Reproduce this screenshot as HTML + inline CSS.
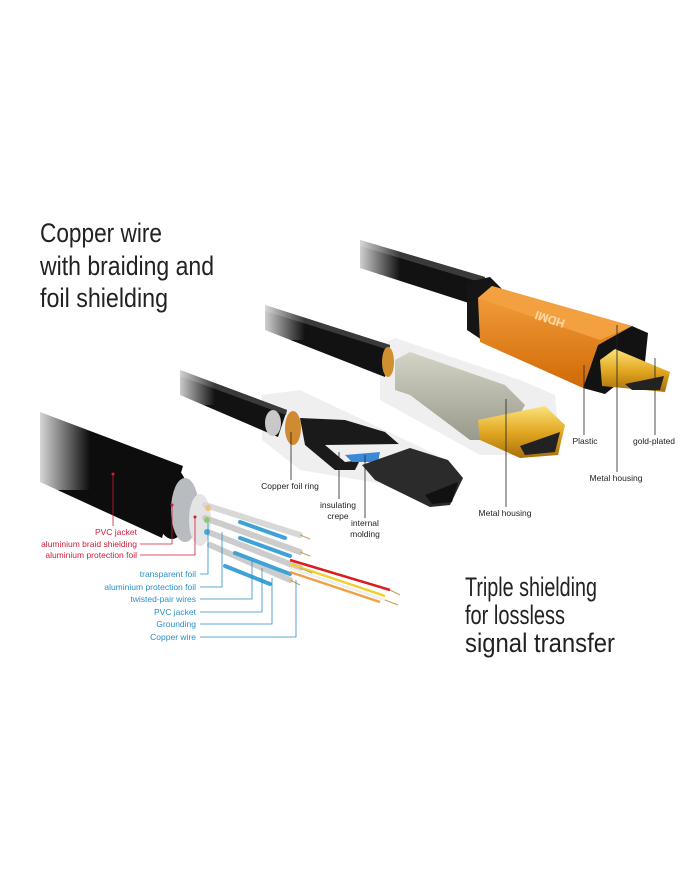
<!DOCTYPE html>
<html><head><meta charset="utf-8"><style>
html,body{margin:0;padding:0;background:#fff;}
svg{display:block;}
.big{font-family:"Liberation Sans Narrow","Liberation Sans",sans-serif;font-size:27px;fill:#222;}
.lb{font-family:"Liberation Sans",sans-serif;font-size:8.5px;}
</style></head><body>
<svg width="700" height="869" viewBox="0 0 700 869" xmlns="http://www.w3.org/2000/svg">
<defs>
<linearGradient id="fadeL" x1="0" y1="0" x2="1" y2="0">
<stop offset="0" stop-color="#fff" stop-opacity="1"/><stop offset="1" stop-color="#fff" stop-opacity="0"/></linearGradient>
<linearGradient id="org" x1="0" y1="0" x2="0" y2="1">
<stop offset="0" stop-color="#f5a040"/><stop offset="1" stop-color="#d06a05"/></linearGradient>
<linearGradient id="gold" x1="0" y1="0" x2="0" y2="1">
<stop offset="0" stop-color="#fbe27a"/><stop offset="0.5" stop-color="#e2a823"/><stop offset="1" stop-color="#a8700a"/></linearGradient>
<linearGradient id="gray" x1="0" y1="0" x2="0" y2="1">
<stop offset="0" stop-color="#d4d4c6"/><stop offset="1" stop-color="#9a9a8c"/></linearGradient>
</defs>

<text class="big" x="40" y="242" textLength="122" lengthAdjust="spacingAndGlyphs">Copper wire</text>
<text class="big" x="40" y="275" textLength="174" lengthAdjust="spacingAndGlyphs">with braiding and</text>
<text class="big" x="40" y="307" textLength="128" lengthAdjust="spacingAndGlyphs">foil shielding</text>
<text class="big" x="465" y="596" textLength="132" lengthAdjust="spacingAndGlyphs">Triple shielding</text>
<text class="big" x="465" y="624" textLength="100" lengthAdjust="spacingAndGlyphs">for lossless</text>
<text class="big" x="465" y="652" textLength="150" lengthAdjust="spacingAndGlyphs">signal transfer</text>

<polygon points="262,395 300,390 437,455 437,493 300,470 262,440" fill="#efefef"/>
<polygon points="380,345 395,338 520,380 555,395 560,455 480,455 380,400" fill="#efefef"/>

<!-- top cable -->
<polygon points="360,240 485,277 475,305 360,268" fill="#121212"/>
<polygon points="360,240 485,277 483,283 360,246" fill="#3a3a3a"/>
<rect x="350" y="225" width="50" height="60" fill="url(#fadeL)"/>
<polygon points="467,282 490,277 503,290 482,340 467,330" fill="#151515"/>
<polygon points="478,298 492,286 632,326 598,345 583,388 480,342" fill="url(#org)"/>
<polygon points="492,286 632,326 600,340 478,298" fill="#f2a040"/>
<text x="552" y="306" font-family="Liberation Sans" font-weight="bold" font-size="12" fill="#ffd9a8" transform="rotate(198 560 312)">HDMI</text>
<polygon points="583,388 598,345 632,326 648,333 645,362 605,394" fill="#121212"/>
<polygon points="600,360 615,349 670,372 665,392 602,386" fill="url(#gold)"/>
<polygon points="625,384 664,376 660,390 632,390" fill="#222"/>

<!-- middle cable -->
<polygon points="265,305 390,345 385,377 265,330" fill="#121212"/>
<polygon points="265,305 390,345 389,350 265,311" fill="#3a3a3a"/>
<rect x="255" y="295" width="50" height="45" fill="url(#fadeL)"/>
<ellipse cx="388" cy="362" rx="6" ry="15" fill="#d09030"/>
<polygon points="395,360 410,352 505,385 525,405 505,440 470,440 410,395 395,390" fill="url(#gray)"/>
<polygon points="478,420 545,406 565,425 558,455 520,458 480,440" fill="url(#gold)"/>
<polygon points="520,446 560,432 555,452 525,455" fill="#222"/>

<!-- third cable -->
<polygon points="180,370 287,410 278,437 180,395" fill="#121212"/>
<polygon points="180,370 287,410 286,415 180,376" fill="#3a3a3a"/>
<rect x="170" y="360" width="45" height="45" fill="url(#fadeL)"/>
<ellipse cx="273" cy="423" rx="8" ry="13" fill="#c8c8c8"/>
<ellipse cx="293" cy="428" rx="8" ry="17" fill="#d08a30"/>
<polygon points="300,418 345,420 385,432 400,445 365,450 355,470 335,470 305,445" fill="#1a1a1a"/>
<polygon points="325,445 400,444 405,455 345,462" fill="#f0f0f0"/>
<polygon points="345,455 380,452 378,462 352,462" fill="#3a8ad8"/>
<polygon points="362,465 410,448 448,460 463,478 450,505 430,507 375,480" fill="#2b2b2b"/>
<polygon points="425,495 458,482 452,502 432,504" fill="#111"/>

<!-- big cable -->
<polygon points="40,412 183,466 162,538 40,482" fill="#0d0d0d"/>
<rect x="30" y="405" width="60" height="85" fill="url(#fadeL)"/>
<ellipse cx="172" cy="503" rx="17" ry="36" fill="#0d0d0d"/>
<ellipse cx="185" cy="510" rx="14" ry="32" fill="#b8bcc0"/>
<ellipse cx="200" cy="520" rx="11" ry="26" fill="#e4e4e4"/>
<g stroke-width="6" stroke-linecap="round">
<line x1="205" y1="505" x2="300" y2="535" stroke="#d8d8d8"/>
<line x1="205" y1="518" x2="300" y2="552" stroke="#ccc"/>
<line x1="208" y1="532" x2="300" y2="568" stroke="#ccc"/>
<line x1="210" y1="545" x2="290" y2="580" stroke="#ccc"/>
</g>
<circle cx="208" cy="508" r="3" fill="#f0c080"/>
<circle cx="207" cy="520" r="3" fill="#8cc87a"/>
<circle cx="207" cy="532" r="3" fill="#4aa8e0"/>
<g stroke-width="4" stroke-linecap="round">
<line x1="240" y1="522" x2="285" y2="538" stroke="#3ea2d8"/>
<line x1="240" y1="538" x2="290" y2="556" stroke="#3ea2d8"/>
<line x1="235" y1="553" x2="290" y2="574" stroke="#3ea2d8"/>
<line x1="225" y1="566" x2="270" y2="584" stroke="#3ea2d8"/>
</g>
<g stroke-width="2.5">
<line x1="290" y1="560" x2="390" y2="590" stroke="#d81e1e"/>
<line x1="290" y1="564" x2="385" y2="596" stroke="#f0d030"/>
<line x1="290" y1="568" x2="385" y2="600" stroke="#eee"/>
<line x1="290" y1="572" x2="380" y2="602" stroke="#f0a040"/>
</g>
<g stroke="#c8a060" stroke-width="1.2">
<line x1="300" y1="535" x2="310" y2="539"/><line x1="300" y1="552" x2="310" y2="556"/>
<line x1="300" y1="568" x2="312" y2="573"/><line x1="290" y1="580" x2="300" y2="585"/>
<line x1="390" y1="590" x2="400" y2="595"/><line x1="385" y1="600" x2="398" y2="605"/>
</g>

<g class="lb" fill="#d01c3a" text-anchor="end">
<text x="137" y="535">PVC jacket</text>
<text x="137" y="547">aluminium braid shielding</text>
<text x="137" y="558">aluminium protection foil</text>
</g>
<g stroke="#d01c3a" stroke-width="0.8" fill="none">
<polyline points="113,474 113,526"/>
<polyline points="140,544 172,544 172,505"/>
<polyline points="140,555 195,555 195,517"/>
</g>
<g fill="#d01c3a"><circle cx="113" cy="474" r="1.5"/><circle cx="172" cy="505" r="1.5"/><circle cx="195" cy="517" r="1.5"/></g>

<g class="lb" fill="#2a90c8" text-anchor="end">
<text x="196" y="577">transparent foil</text>
<text x="196" y="590">aluminium protection foil</text>
<text x="196" y="602">twisted-pair wires</text>
<text x="196" y="615">PVC jacket</text>
<text x="196" y="627">Grounding</text>
<text x="196" y="640">Copper wire</text>
</g>
<g stroke="#2a90c8" stroke-width="0.8" fill="none">
<polyline points="200,574 208,574 208,523"/>
<polyline points="200,587 222,587 222,532"/>
<polyline points="200,599 252,599 252,560"/>
<polyline points="200,612 262,612 262,568"/>
<polyline points="200,624 272,624 272,578"/>
<polyline points="200,637 296,637 296,580"/>
</g>

<g class="lb" fill="#222" text-anchor="middle">
<text x="290" y="489">Copper foil ring</text>
<text x="338" y="508">insulating</text>
<text x="338" y="519">crepe</text>
<text x="365" y="526">internal</text>
<text x="365" y="537">molding</text>
<text x="505" y="516">Metal housing</text>
<text x="585" y="444">Plastic</text>
<text x="654" y="444">gold-plated</text>
<text x="616" y="481">Metal housing</text>
</g>
<g stroke="#222" stroke-width="0.8">
<line x1="291" y1="432" x2="291" y2="480"/>
<line x1="339" y1="452" x2="339" y2="499"/>
<line x1="365" y1="455" x2="365" y2="518"/>
<line x1="506" y1="399" x2="506" y2="507"/>
<line x1="584" y1="365" x2="584" y2="435"/>
<line x1="655" y1="358" x2="655" y2="435"/>
<line x1="617" y1="325" x2="617" y2="472"/>
</g>
</svg>
</body></html>
